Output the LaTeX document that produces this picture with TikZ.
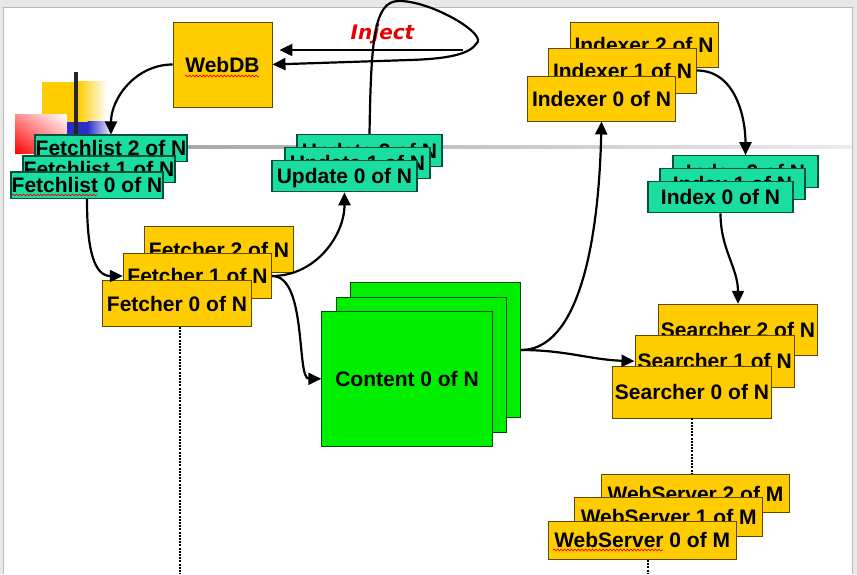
\documentclass[tikz,border=0pt]{standalone}
\usepackage{fontspec}
\setmainfont{Liberation Sans}
\newfontfamily\injectfont{DejaVu Sans}
\usetikzlibrary{arrows.meta, decorations.pathmorphing, shadings}

\definecolor{boxgold}{RGB}{255,204,0}
\definecolor{boxgoldline}{RGB}{95,72,0}
\definecolor{boxteal}{RGB}{26,222,160}
\definecolor{boxtealline}{RGB}{0,80,60}
\definecolor{boxgreen}{RGB}{0,238,0}
\definecolor{boxgreenline}{RGB}{0,75,0}
\definecolor{injred}{RGB}{230,0,0}
\definecolor{logoblue}{RGB}{45,45,205}

\begin{document}
\begin{tikzpicture}[x=1pt, y=1pt,
  cell/.style={draw, rectangle, inner sep=0pt, line width=0.9pt, text height=15pt, text depth=0pt,
    font=\fontsize{21}{25}\selectfont\bfseries},
  goldbox/.style={cell, fill=boxgold, draw=boxgoldline},
  tealbox/.style={cell, fill=boxteal, draw=boxtealline, line width=1.2pt},
  greenbox/.style={cell, fill=boxgreen, draw=boxgreenline},
  arr/.style={-{Triangle[length=13pt,width=12pt]}, line width=2.2pt},
  dotline/.style={line width=2.6pt, dash pattern=on 2pt off 1.2pt},
  spell/.style={red, line width=0.7pt, decorate, decoration={snake, amplitude=0.9pt, segment length=3.5pt}}]
  \useasboundingbox (0,0) rectangle (857,-574);

  % slide
  \fill[gray!18] (0,0) rectangle (857,-574);
  \fill[white] (3.5,-7) rectangle (852.5,-574);
  \draw[gray!55, line width=0.8pt] (3.5,-574) -- (3.5,-7) -- (852.5,-7) -- (852.5,-574);

  % logo
  \fill[boxgold] (41.7,-81.7) rectangle (78,-121.7);
  \shade[left color=boxgold, right color=white] (77.5,-81.7) rectangle (107,-121.7);
  \fill[logoblue] (66.7,-121.7) rectangle (88,-140);
  \shade[left color=logoblue, right color=white] (87.5,-121.7) rectangle (113,-140);
  \shade[upper left=red!45, lower left=red, upper right=white, lower right=red!45] (15,-114.3) rectangle (66.7,-153.3);
  \fill[black!85] (74.3,-72.3) rectangle (77.7,-140);
  \shade[left color=gray!75, right color=gray!15] (100,-145) rectangle (852,-148);

  % WebDB
  \node[goldbox, minimum width=99pt, minimum height=85pt] (webdb) at (222.5,-64.5) {WebDB};
  \draw[spell] (185,-76) -- (259,-76);

  % Fetchlists
  \node[tealbox, minimum width=152pt, minimum height=26.5pt] (fl2) at (111,-148.3) {Fetchlist 2 of N};
  \node[tealbox, minimum width=152pt, minimum height=26.5pt] (fl1) at (99,-169.2) {Fetchlist 1 of N};
  \node[tealbox, minimum width=152pt, minimum height=26.5pt] (fl0) at (87,-185.3) {Fetchlist 0 of N};
  \draw[spell] (12,-195) -- (97,-195);

  % Updates
  \node[tealbox, minimum width=145pt, minimum height=31.5pt] (upd2) at (369.5,-150.5) {Update 2 of N};
  \node[tealbox, minimum width=145pt, minimum height=31.5pt] (upd1) at (357.5,-163) {Update 1 of N};
  \node[tealbox, minimum width=145pt, minimum height=31.5pt] (upd0) at (344.5,-176) {Update 0 of N};

  % Indexers
  \node[goldbox, minimum width=148pt, minimum height=45pt] (ixr2) at (644,-44.5) {Indexer 2 of N};
  \node[goldbox, minimum width=148pt, minimum height=45pt] (ixr1) at (622.5,-70.5) {Indexer 1 of N};
  \node[goldbox, minimum width=148pt, minimum height=45pt] (ixr0) at (601.5,-98.5) {Indexer 0 of N};

  % Indexes
  \node[tealbox, minimum width=145pt, minimum height=31.5pt] (idx2) at (745.5,-171.5) {Index 2 of N};
  \node[tealbox, minimum width=145pt, minimum height=31.5pt] (idx1) at (732.5,-184) {Index 1 of N};
  \node[tealbox, minimum width=145pt, minimum height=31.5pt] (idx0) at (720.5,-197) {Index 0 of N};

  % Fetchers
  \node[goldbox, minimum width=148.5pt, minimum height=45.5pt] (fch2) at (219,-249.5) {Fetcher 2 of N};
  \node[goldbox, minimum width=148.5pt, minimum height=45.5pt] (fch1) at (197.5,-276) {Fetcher 1 of N};
  \node[goldbox, minimum width=148.5pt, minimum height=45.5pt] (fch0) at (177,-303.5) {Fetcher 0 of N};

  % Content
  \node[greenbox, minimum width=170.5pt, minimum height=134.5pt] (cnt2) at (435.3,-350) {};
  \node[greenbox, minimum width=170.5pt, minimum height=134.5pt] (cnt1) at (421.3,-365) {};
  \node[greenbox, minimum width=170.5pt, minimum height=134.5pt] (cnt0) at (407,-378.8) {Content 0 of N};

  % Searchers
  \node[goldbox, minimum width=159.5pt, minimum height=51.5pt] (srch2) at (738,-330) {Searcher 2 of N};
  \node[goldbox, minimum width=159.5pt, minimum height=51.5pt] (srch1) at (714.7,-361.2) {Searcher 1 of N};
  \node[goldbox, minimum width=159.5pt, minimum height=51.5pt] (srch0) at (692,-392.2) {Searcher 0 of N};

  % WebServers
  \node[goldbox, minimum width=187.7pt, minimum height=38.5pt] (ws2) at (695.5,-493.5) {WebServer 2 of M};
  \node[goldbox, minimum width=187.7pt, minimum height=38.5pt] (ws1) at (668.7,-517) {WebServer 1 of M};
  \node[goldbox, minimum width=187.7pt, minimum height=38.5pt] (ws0) at (642.2,-540.2) {WebServer 0 of M};
  \draw[spell] (553,-550) -- (663,-550);

  % Inject
  \node[text=injred, font=\injectfont\fontsize{20}{24}\selectfont\bfseries\itshape] (inject) at (382.5,-34) {Inject};
  \coordinate (injsrc) at (463,-50);
  \draw[arr, shorten >=7pt] (injsrc) -- (webdb.east |- injsrc);
  \draw[arr] (upd2.north) .. controls (371,-40) and (374,-2) .. (398,-1)
    .. controls (430,0) and (490,-35) .. (476,-44)
    .. controls (468,-56) and (440,-59) .. (410,-60) -- (webdb.east);

  % flow
  \draw[arr] (webdb.west) to[out=180,in=90] (fl2.north);
  \draw[arr] (fl0.south) to[out=-90,in=180] (fch1.west);
  \draw[arr] (fch1.east) to[out=0,in=-90] (upd0.south);
  \draw[arr] (fch1.east) .. controls +(35,0) and +(-25,0) .. (cnt0.west);
  \draw[arr] (cnt2.east) .. controls +(55,0) and +(-3,-130) .. (ixr0.south);
  \draw[arr] (cnt2.east) to[out=0,in=178] (srch1.west);
  \draw[arr] (ixr1.east) to[out=0,in=90] (idx2.north);
  \draw[arr] (idx0.south) to[out=-90,in=90] (srch2.north);

  % dotted
  \coordinate (fchbot) at (180,-574);
  \coordinate (wsbot) at (648,-574);
  \draw[dotline] (fchbot |- fch0.south) -- (fchbot);
  \draw[dotline] (srch0.south) -- (srch0.south |- ws2.north);
  \draw[dotline] (wsbot |- ws0.south) -- (wsbot);
\end{tikzpicture}
\end{document}
